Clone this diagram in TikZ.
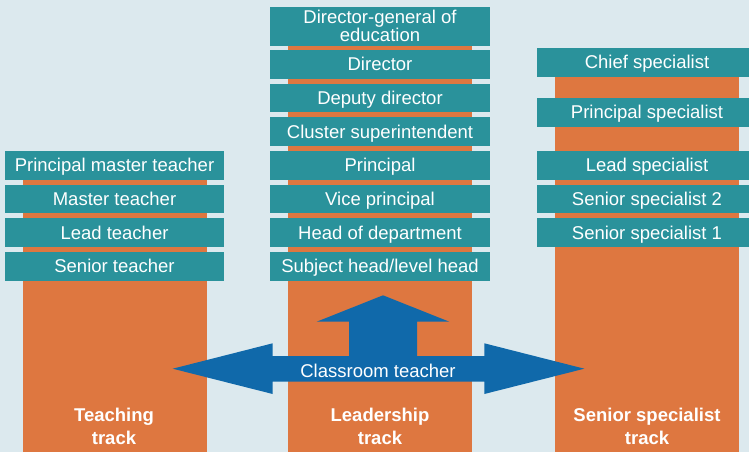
\documentclass[tikz,border=0pt]{standalone}
\usepackage{fontspec}
\setmainfont{Liberation Sans}
\definecolor{bgblue}{HTML}{DCE9EE}
\definecolor{trackorange}{HTML}{DE7740}
\definecolor{rankteal}{HTML}{2A929B}
\definecolor{arrowblue}{HTML}{1069AA}
\begin{document}
\begin{tikzpicture}[x=1pt,y=-1pt,
  rankbox/.style={fill=rankteal,text=white,minimum width=220pt,minimum height=28.7pt,
    inner sep=0pt,align=center,font=\fontsize{18.5}{17.7}\selectfont},
  rank/.style={rankbox,text height=13.5pt,text depth=0.7pt},
  trackname/.style={text=white,align=center,font=\fontsize{18.5}{22.7}\selectfont\bfseries}]
\clip (0,0) rectangle (749,452);
\fill[bgblue] (0,0) rectangle (749,452);

% the three tracks
\fill[trackorange] (23,165) rectangle (207,452);
\fill[trackorange] (288,26) rectangle (472,452);
\fill[trackorange] (555,62) rectangle (739,452);

\node[rank,minimum width=219pt] (pmt) at (114.5,165.4) {Principal master teacher};
\node[rank,minimum width=219pt] (mt) at (114.5,199.1) {Master teacher};
\node[rank,minimum width=219pt] (lt) at (114.5,232.8) {Lead teacher};
\node[rank,minimum width=219pt] (st) at (114.5,266.5) {Senior teacher};

\node[rankbox,minimum height=39pt] (dg) at (380,26.2) {Director-general of\\education};
\node[rank] (dir) at (380,64.3) {Director};
\node[rank] (ddir) at (380,98) {Deputy director};
\node[rank] (cs) at (380,131.7) {Cluster superintendent};
\node[rank] (prin) at (380,165.4) {Principal};
\node[rank] (vp) at (380,199.1) {Vice principal};
\node[rank] (hod) at (380,232.8) {Head of department};
\node[rank] (sh) at (380,266.5) {Subject head/level head};

\node[rank] (cspec) at (647,62.3) {Chief specialist};
\node[rank] (pspec) at (647,112.3) {Principal specialist};
\node[rank] (lspec) at (647,165.4) {Lead specialist};
\node[rank] (sspec2) at (647,199.1) {Senior specialist 2};
\node[rank] (sspec1) at (647,232.8) {Senior specialist 1};

% classroom teacher arrow
\fill[arrowblue] (172.7,368.7) -- (272.7,343.3) -- (272.7,356) -- (349,356)
  -- (349,321.7) -- (316.7,321.7) -- (383,295.3) -- (449.3,321.7) -- (417,321.7)
  -- (417,356) -- (484.3,356) -- (484.3,343.3) -- (584.3,368.7) -- (484.3,394)
  -- (484.3,381.7) -- (272.7,381.7) -- (272.7,394) -- cycle;
\node[text=white,font=\fontsize{18.5}{18}\selectfont] (ct) at (378,370.7) {Classroom teacher};

\node[trackname] (teach) at (114,426.5) {Teaching\\track};
\node[trackname] (lead) at (380,426.5) {Leadership\\track};
\node[trackname] (spec) at (647,426.5) {Senior specialist\\track};
\end{tikzpicture}
\end{document}
